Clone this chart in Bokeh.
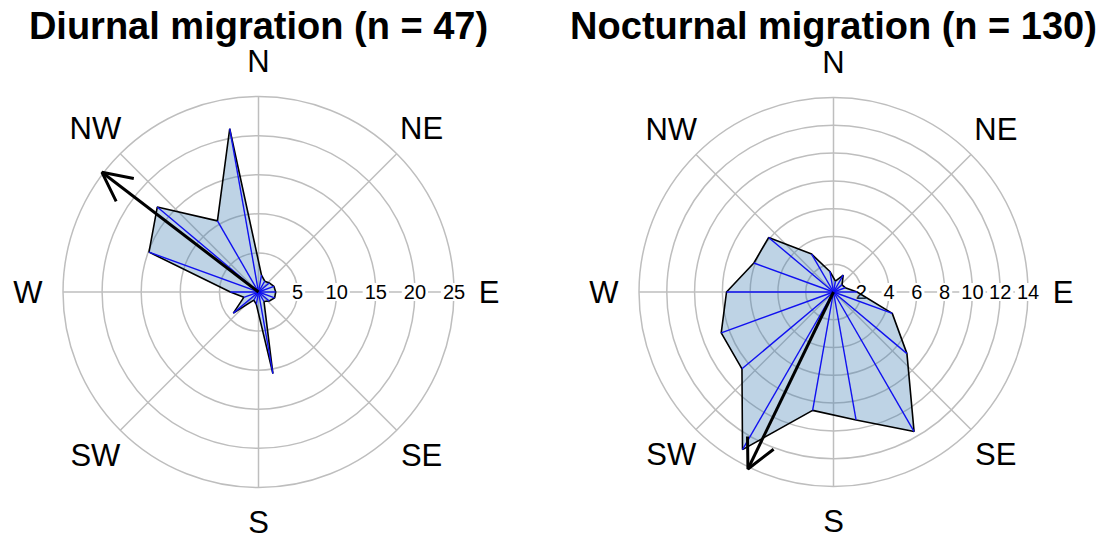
import numpy as np
from bokeh.plotting import figure
from bokeh.models import Range1d, Label, LabelSet, Arrow, OpenHead, ColumnDataSource
from bokeh.core.properties import value
from bokeh.layouts import row
from bokeh.embed import file_html
from bokeh.resources import INLINE

# ---------------- data ----------------
bin_centers_deg = [10, 30, 50, 70, 90, 110, 130, 150, 170,
                   190, 210, 230, 250, 270, 290, 310, 330, 350]

diurnal_title = "Diurnal migration (n = 47)"
diurnal_pct = [2.2, 1.6, 1.8, 2.1, 2.2, 2.2, 1.8, 1.4, 10.6,
               1.6, 1.2, 4.2, 2.0, 3.6, 14.9, 16.9, 10.5, 21.2]
diurnal_ticks = [5, 10, 15, 20, 25]
diurnal_mean_deg = 307.4
diurnal_mean_len = 25.2

nocturnal_title = "Nocturnal migration (n = 130)"
nocturnal_pct = [0.8, 1.4, 0.8, 0.9, 1.7, 4.5, 6.9, 11.6, 9.35,
                 8.65, 13.1, 8.6, 8.6, 7.7, 6.1, 6.1, 3.15, 1.5]
nocturnal_ticks = [2, 4, 6, 8, 10, 12, 14]
nocturnal_mean_deg = 205.8
nocturnal_mean_len = 14.15

compass_labels = ["N", "NE", "E", "SE", "S", "SW", "W", "NW"]
compass_deg = [0, 45, 90, 135, 180, 225, 270, 315]

FONT = "Liberation Sans"
GRID = "#BEBEBE"
TOP = 48


def polar_panel(title, pct, ticks, mean_deg, mean_len, radius_px,
                half_w_px, above_px, below_px, border_left):
    rmax = ticks[-1]
    s = radius_px / rmax  # screen px per data unit
    p = figure(frame_width=int(2 * half_w_px), frame_height=int(above_px + below_px),
               x_range=Range1d(-half_w_px / s, half_w_px / s),
               y_range=Range1d(-below_px / s, above_px / s),
               x_axis_type=None, y_axis_type=None,
               toolbar_location=None, output_backend="svg",
               min_border_left=border_left, min_border_right=0,
               min_border_bottom=0, min_border_top=TOP,
               outline_line_color=None, title=title)
    p.background_fill_color = "white"
    p.border_fill_color = "white"
    p.title.align = "center"
    p.title.text_font = FONT
    p.title.text_font_size = "38px"
    p.title.text_font_style = "bold"
    p.title.text_color = "black"
    p.title.standoff = 4

    # grid circles and spokes
    p.circle(x=[0] * len(ticks), y=[0] * len(ticks), radius=ticks,
             fill_color=None, line_color=GRID, line_width=1.5, level="image")
    cr = np.radians(compass_deg)
    p.segment(x0=0, y0=0, x1=rmax * np.sin(cr), y1=rmax * np.cos(cr),
              line_color=GRID, line_width=1.5, level="image")

    # radial tick labels with white boxes
    for t in ticks:
        p.add_layout(Label(x=t, y=0, text=str(t), text_align="center",
                           text_baseline="middle", text_font=FONT,
                           text_font_size="20px", text_color="black",
                           background_fill_color="white", padding=2,
                           level="underlay"))

    # compass labels
    lr = rmax * 1.18
    src = ColumnDataSource(dict(x=lr * np.sin(cr), y=lr * np.cos(cr), t=compass_labels))
    p.add_layout(LabelSet(x="x", y="y", text="t", source=src, text_align="center",
                          text_baseline="middle", text_font=value(FONT),
                          text_font_size=value("31px"), text_color="black"))

    # rose polygon
    th = np.radians(bin_centers_deg)
    v = np.array(pct)
    xs = v * np.sin(th)
    ys = v * np.cos(th)
    p.patch(xs, ys, fill_color="#4682B4", fill_alpha=0.35,
            line_color="black", line_width=1.6)
    p.segment(x0=0, y0=0, x1=xs, y1=ys, line_color="#1010F0", line_width=1.4)

    # mean direction arrow
    md = np.radians(mean_deg)
    p.add_layout(Arrow(end=OpenHead(size=29, line_width=3, line_color="black"),
                       x_start=0, y_start=0,
                       x_end=mean_len * np.sin(md), y_end=mean_len * np.cos(md),
                       line_width=3, line_color="black"))
    return p


# page positions: left centre x=258, right centre x=833, centre y=291.5
p1 = polar_panel(diurnal_title, diurnal_pct, diurnal_ticks, diurnal_mean_deg,
                 diurnal_mean_len, 195.5, 258, 291.5 - TOP, 542 - 291.5, 0)
p2 = polar_panel(nocturnal_title, nocturnal_pct, nocturnal_ticks, nocturnal_mean_deg,
                 nocturnal_mean_len, 194.5, 268, 291.5 - TOP, 542 - 291.5, 49)

layout = row(p1, p2)
open("out.html", "w").write(file_html(layout, INLINE))
